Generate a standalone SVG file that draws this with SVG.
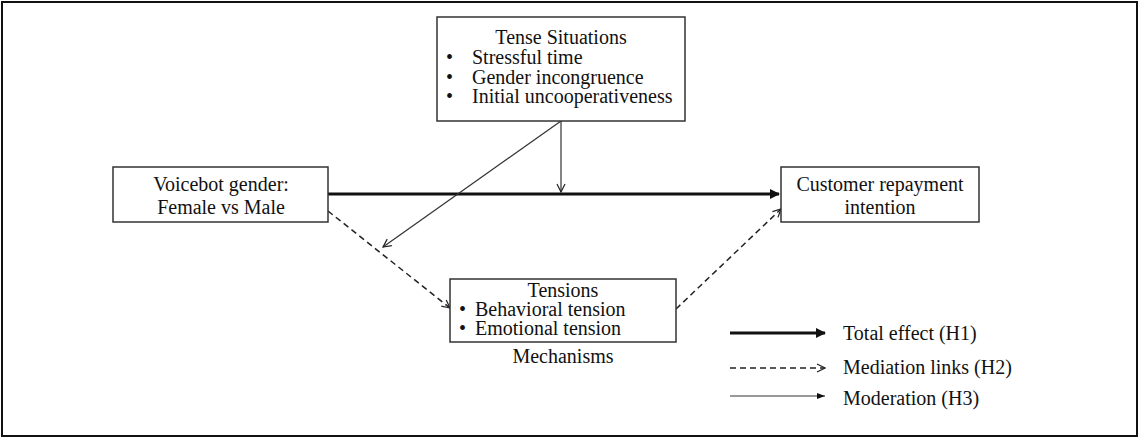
<svg xmlns="http://www.w3.org/2000/svg" width="1139" height="439" viewBox="0 0 1139 439">
<style>
.box{fill:#fff;stroke:#333;stroke-width:1.5}
text{font-family:"Liberation Serif","Times New Roman",serif;font-size:20px;fill:#111}
.c{text-anchor:middle}
.thick{stroke:#111;stroke-width:3;fill:none}
.thin{stroke:#333;stroke-width:1.2;fill:none}
.dash{stroke:#222;stroke-width:1.5;fill:none;stroke-dasharray:6,4}
</style>
<defs>
<marker id="tri" markerWidth="10" markerHeight="10" refX="9" refY="5" orient="auto" markerUnits="userSpaceOnUse"><path d="M0,0 L10,5 L0,10 Z" fill="#111"/></marker>
<marker id="trismall" markerWidth="8" markerHeight="8" refX="8" refY="4" orient="auto" markerUnits="userSpaceOnUse"><path d="M0,1 L8,4 L0,7 Z" fill="#111"/></marker>
<marker id="chev" markerWidth="10" markerHeight="10" refX="9" refY="5" orient="auto" markerUnits="userSpaceOnUse"><path d="M1,1 L9,5 L1,9" fill="none" stroke="#222" stroke-width="1.2"/></marker>
</defs>
<rect x="2" y="2" width="1135" height="434" fill="#fff" stroke="#111" stroke-width="2"/>

<g id="connectors">
<line class="thick" x1="328" y1="194" x2="779" y2="194" marker-end="url(#tri)"/>
<line class="thin" x1="561" y1="121" x2="561" y2="192" marker-end="url(#chev)"/>
<line class="thin" x1="561" y1="121" x2="383" y2="247" marker-end="url(#chev)"/>
<line class="dash" x1="328" y1="211" x2="450" y2="308" marker-end="url(#chev)"/>
<line class="dash" x1="676" y1="309" x2="781" y2="209" marker-end="url(#chev)"/>
</g>

<g id="tense">
<rect class="box" x="437" y="17" width="248" height="104"/>
<text class="c" x="561" y="44">Tense Situations</text>
<text x="446" y="64">•<tspan x="472">Stressful time</tspan></text>
<text x="446" y="84">•<tspan x="472">Gender incongruence</tspan></text>
<text x="446" y="103">•<tspan x="472">Initial uncooperativeness</tspan></text>
</g>

<g id="voicebot">
<rect class="box" x="113" y="167" width="215" height="55"/>
<text class="c" x="221" y="191">Voicebot gender:</text>
<text class="c" x="221" y="214">Female vs Male</text>
</g>

<g id="customer">
<rect class="box" x="781" y="167" width="198" height="55"/>
<text class="c" x="880" y="191">Customer repayment</text>
<text class="c" x="880" y="214">intention</text>
</g>

<g id="tensions">
<rect class="box" x="450" y="279" width="226" height="63"/>
<text class="c" x="563" y="297">Tensions</text>
<text x="459" y="316">•<tspan x="475">Behavioral tension</tspan></text>
<text x="459" y="335">•<tspan x="475">Emotional tension</tspan></text>
<text class="c" x="563" y="363">Mechanisms</text>
</g>

<g id="legend">
<line class="thick" x1="730" y1="333" x2="825" y2="333" marker-end="url(#tri)"/>
<text x="843" y="340">Total effect (H1)</text>
<line class="dash" x1="730" y1="368" x2="825" y2="368" stroke-dasharray="5,4" marker-end="url(#chev)"/>
<text x="843" y="374">Mediation links (H2)</text>
<line class="thin" x1="730" y1="396" x2="825" y2="396" marker-end="url(#trismall)"/>
<text x="843" y="405">Moderation (H3)</text>
</g>
</svg>
